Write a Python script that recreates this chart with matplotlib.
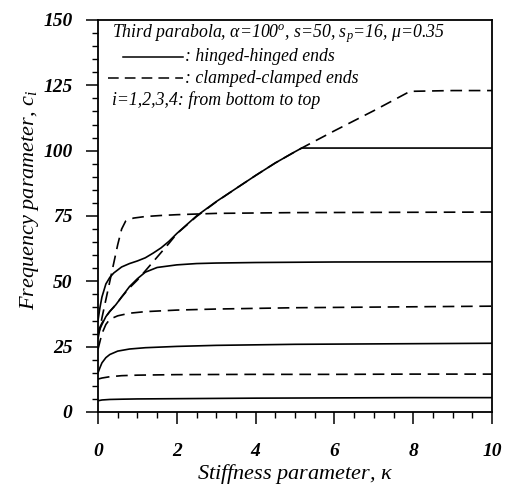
import matplotlib
matplotlib.use("Agg")
import matplotlib.pyplot as plt
from matplotlib.ticker import MultipleLocator

# ---- data ----
x_h1 = [0, 0.1, 0.3, 0.6, 1, 2, 4, 6, 8, 10]
y_h1 = [4.3, 4.6, 4.8, 4.9, 5.0, 5.1, 5.3, 5.4, 5.5, 5.5]

x_c1 = [0, 0.1, 0.3, 0.6, 1, 2, 4, 6, 8, 10]
y_c1 = [12.6, 13.0, 13.5, 13.9, 14.1, 14.3, 14.4, 14.4, 14.5, 14.5]

x_h2 = [0, 0.05, 0.1, 0.2, 0.3, 0.5, 0.8, 1.2, 2, 3, 5, 10]
y_h2 = [15, 17, 18.8, 20.8, 22, 23.3, 24.1, 24.6, 25.1, 25.5, 25.9, 26.3]

x_c2 = [0, 0.05, 0.1, 0.2, 0.3, 0.5, 0.8, 1.2, 2, 3, 5, 10]
y_c2 = [24, 27, 30, 33.5, 35.5, 36.8, 37.8, 38.4, 39.0, 39.4, 39.9, 40.5]

x_h3 = [0, 0.1, 0.2, 0.3, 0.45, 0.6, 0.8, 1.0, 1.2, 1.5, 2, 2.5, 3, 4, 6, 10]
y_h3 = [30, 33.5, 36.5, 38.5, 41, 44, 48, 51, 53.5, 55.3, 56.3, 56.8, 57.0, 57.2, 57.4, 57.5]

x_c3 = [0, 0.1, 0.2, 0.3, 0.4, 0.5, 0.6, 0.7, 0.9, 1.2, 1.6, 2, 3, 5, 10]
y_c3 = [28, 36, 43, 50, 57, 64, 70, 73, 74.2, 74.8, 75.2, 75.5, 76.0, 76.3, 76.5]

x_h4 = [0, 0.05, 0.1, 0.2, 0.3, 0.4, 0.6, 0.8, 1.0, 1.2, 1.4, 1.6, 1.8, 2.0,
        2.5, 3.0, 3.5, 4.0, 4.5, 5.0, 5.17, 6, 8, 10]
y_h4 = [35, 40, 44, 49, 51.5, 53.2, 55.5, 56.8, 57.8, 59.0, 60.8, 62.8, 65.3, 68.3,
        75.0, 80.5, 85.5, 90.5, 95.3, 99.6, 101, 101, 101, 101]

x_c4 = [0, 0.1, 0.2, 0.3, 0.45, 0.6, 0.8, 1.0, 1.2, 1.4, 1.6, 1.8, 2.0, 2.5,
        3.0, 3.5, 4.0, 4.5, 5.0, 5.17, 6, 7, 7.92, 9, 10]
y_c4 = [31, 34, 36.5, 38.5, 41, 44, 47.5, 50.5, 54, 57.5, 61, 64.5, 68.2, 74.8,
        80.4, 85.5, 90.5, 95.3, 99.6, 101, 107.6, 115.3, 122.7, 123, 123]

hinged = [(x_h1, y_h1), (x_h2, y_h2), (x_h3, y_h3), (x_h4, y_h4)]
clamped = [(x_c1, y_c1), (x_c2, y_c2), (x_c3, y_c3), (x_c4, y_c4)]

x_ticks = [0, 2, 4, 6, 8, 10]
y_ticks = [0, 25, 50, 75, 100, 125, 150]

title_text = "Third parabola, $\\alpha$=100$^o$, s=50, s$_p$=16, $\\mu$=0.35"
hinged_label = ": hinged-hinged ends"
clamped_label = ": clamped-clamped ends"
order_text = "i=1,2,3,4: from bottom to top"
xlabel = "Stiffness parameter, $\\kappa$"
ylabel = "Frequency parameter, $c_i$"

# ---- plotting ----
plt.rcParams['font.family'] = ['Liberation Serif', 'DejaVu Serif']
plt.rcParams['mathtext.fontset'] = 'custom'
plt.rcParams['mathtext.rm'] = 'Liberation Serif:italic'
plt.rcParams['mathtext.it'] = 'Liberation Serif:italic'

fig = plt.figure(figsize=(5.07, 4.87), dpi=100)
ax = fig.add_axes([98/507, 75/487, 394/507, 392/487])

for xs, ys in hinged:
    ax.plot(xs, ys, color='black', lw=1.2, solid_capstyle='butt')
for xs, ys in clamped:
    ax.plot(xs, ys, color='black', lw=1.2, dashes=(7, 4))

ax.set_xlim(0, 10)
ax.set_ylim(0, 150)
ax.set_xticks(x_ticks)
ax.set_yticks(y_ticks)
ax.xaxis.set_minor_locator(MultipleLocator(0.5))
ax.yaxis.set_minor_locator(MultipleLocator(5))
ax.tick_params(which='major', direction='out', length=8.5, width=1.1,
               top=False, right=False, labelsize=14)
ax.tick_params(which='minor', direction='out', length=4, width=1.0,
               top=False, right=False)
ax.tick_params(axis='y', which='major', pad=10)
ax.tick_params(axis='x', which='major', pad=14)
for lab in ax.get_xticklabels() + ax.get_yticklabels():
    lab.set_fontweight('bold')
    lab.set_fontstyle('italic')
for sp in ax.spines.values():
    sp.set_linewidth(1.3)

ax.set_xlabel(xlabel, fontsize=16, style='italic', labelpad=1.0)
ax.set_ylabel(ylabel, fontsize=16, style='italic', labelpad=1.5, y=0.541)

fs = 12.8
ax.text(0.36, 145, title_text, fontsize=fs, style='italic', va='center', ha='left')
ax.plot([0.63, 2.16], [135.9, 135.9], color='black', lw=1.1)
ax.text(2.22, 135.9, hinged_label, fontsize=fs, style='italic', va='center', ha='left')
ax.plot([0.25, 2.16], [127.8, 127.8], color='black', lw=1.1, dashes=(7, 4))
ax.text(2.22, 127.8, clamped_label, fontsize=fs, style='italic', va='center', ha='left')
ax.text(0.36, 119.4, order_text, fontsize=fs, style='italic', va='center', ha='left')

fig.savefig('out.png', dpi=100)
